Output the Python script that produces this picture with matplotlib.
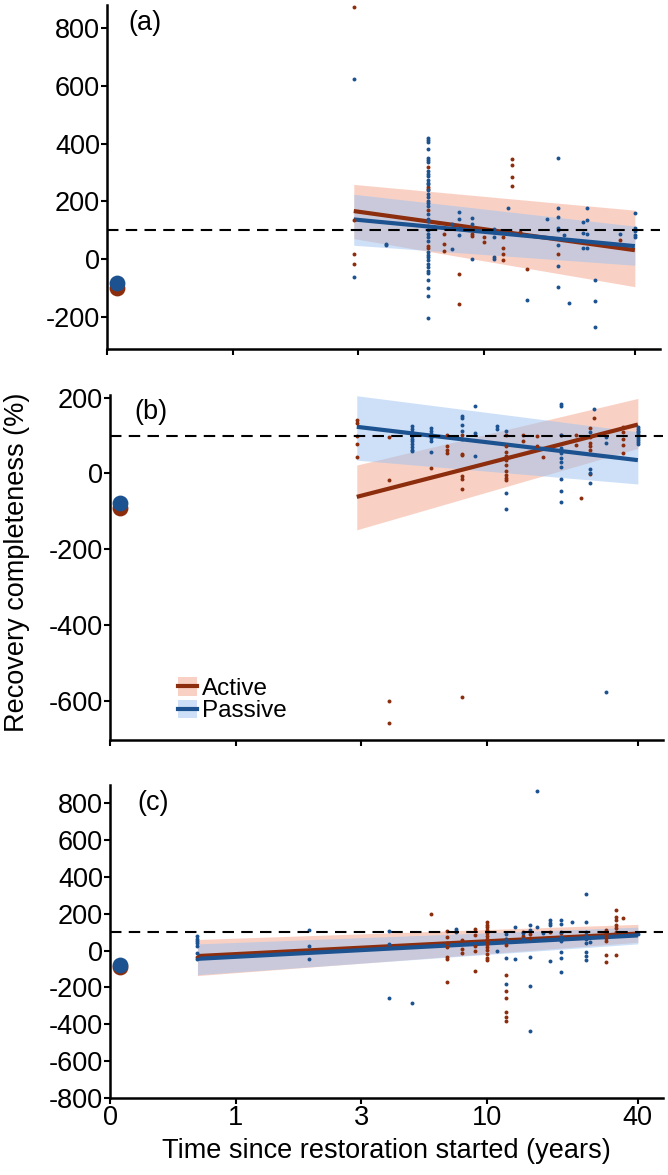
import numpy as np
import matplotlib.pyplot as plt
from matplotlib.lines import Line2D
from matplotlib.patches import Patch

plt.rcParams['font.family'] = ['Liberation Sans', 'DejaVu Sans']

# x axis: years on a stretched log scale (0, 1, 3, 10 evenly spaced, 40 a bit further)
tick_years = [0, 1, 3, 10, 40]
tick_pos = [0, 1, 2, 3, 4.2]

def year_pos(t):
    return np.interp(np.log1p(np.asarray(t, dtype=float)), np.log1p(tick_years), tick_pos)

# baseline (degraded) means plotted at ~0 years
base_t = 0.057
a_base = {'active': -99, 'passive': -80}
b_base = {'active': -91, 'passive': -77}
c_base = {'active': -91, 'passive': -76}

# fitted lines and confidence bands, value at start and end of the fit span
ab_span = [2.9, 40]
c_span = [0.62, 40]

a_active_fit, a_active_lo, a_active_hi = [167, 32], [72, -94], [259, 170]
a_passive_fit, a_passive_lo, a_passive_hi = [138, 46], [49, -20], [225, 115]
b_active_fit, b_active_lo, b_active_hi = [-62, 129], [-149, 66], [22, 198]
b_passive_fit, b_passive_lo, b_passive_hi = [123, 35], [35, -28], [205, 110]
c_active_fit, c_active_lo, c_active_hi = [-30, 92], [-136, 45], [60, 142]
c_passive_fit, c_passive_lo, c_passive_hi = [-45, 82], [-131, 36], [36, 127]

# individual observations, years -> recovery completeness (%)
a_active_pts = {
    2.9: [872, 135, 18, -16],
    6: [319, 250, 244, 172, 46, 38],
    7: [89, 55, 29],
    8: [-51, -154],
    9: [80, 89],
    10: [76, 61],
    12: [76, 38, 18, -2],
    13: [348, 327, 284, 252],
    14: [95],
    15: [-32],
    20: [18],
    35: [66],
}
a_passive_pts = {
    2.9: [622, -60],
    4: [55, 50],
    6: [420, 413, 405, 382, 351, 344, 336, 305, 296, 287, 275, 264, 259, 239, 225,
        216, 202, 195, 183, 158, 141, 133, 115, 101, 89, 76, 64, 26, 15, 7, -2,
        -16, -25, -39, -46, -71, -100, -125, -203],
    7.5: [37, 124],
    8: [163, 139, 110, 84],
    9: [143, 124, 2],
    11: [105, 78, 9, 0],
    12.6: [177],
    15: [-140],
    18: [140],
    20: [351, 177, 147, 107, 101, 49, -23, -94],
    21: [86],
    22: [-151],
    25: [129, 92, 40],
    26: [178, 135, 89, 40],
    28: [-70, -144, -233],
    35: [89],
    40: [162, 110, 97, 84, 76],
}
b_active_pts = {
    2.9: [142, 132, 100, 77, 43],
    4: [97, -18, -602, -660],
    6: [15],
    7: [101, 72, 62, 53],
    8: [101, 51, 48, -8, -15, -41, -591],
    12: [101, 73, 57, 46, 35, 22, 6, -4, -13, -18],
    14: [101, 86],
    16: [100, 73],
    17: [44],
    20: [101],
    23: [101, 75],
    24: [-66],
    26: [119, 97, 80, 72, 61, -1],
    27: [145],
    35: [123, 110, 92, 75, 53],
}
b_passive_pts = {
    5: [126, 117, 108, 100, 92, 85, 77, 70, 63, 59],
    6: [120, 112, 103, 94, 85, 57],
    8: [151, 145, 127, 112, 92],
    9: [178, 107, 46],
    11: [126, 117],
    12: [112, -53, -95],
    20: [184, 178, 101, 68, 53, 41, 30, 17, -15, -46, -75],
    26: [110, 12, 2, -25],
    27: [171],
    30: [95, 79, -577],
    40: [123, 118, 113, 108, 103, 98, 93, 88, 83, 78],
}
c_active_pts = {
    0.62: [-36],
    6: [200],
    7: [105, 75, 40, 20, -33, -45, -173],
    8: [58, 9, -15],
    9: [118, 82, 27, 0, -113],
    10: [154, 140, 125, 110, 95, 80, 65, 50, 35, 20, 5, -20, -40, -54],
    12: [60, 30, -131, -218, -260, -336, -360, -381],
    14: [100, 80],
    15: [90, 70],
    18: [100],
    20: [95],
    30: [110, 90, 80, 70, 50, -24, -60],
    33: [218, 182, 164, 140, 120, 100, -24],
    35: [174],
}
c_passive_pts = {
    0.62: [78, 64, 51, 40, 27, -15, -45],
    2: [109, 24, -45],
    4: [104, 33, -258],
    5: [-283],
    7.6: [118, 106, 100],
    11: [-4],
    12: [90, 60, -40, -182],
    13: [127, -48],
    14: [95, 60],
    15: [136, 110, -33, -191, -436],
    16: [868, 130],
    17: [95],
    18: [167, 150, 140, -55],
    20: [167, 145, 100, 75, 50, -9, -40, -114],
    22: [154],
    25: [309, 154, 100, 80, 60, 40, -10, -30, -50],
    26: [45],
    40: [87],
}

RED = '#8c2d0e'
BLUE = '#1c5290'
RED_FILL = '#f5a48a'
BLUE_FILL = '#9cc3f2'
FS = 19.5

W, H = 668, 1175
fig = plt.figure(figsize=(W / 100, H / 100), dpi=100)

def box(left, top, bottom, width=553):
    return [left / W, 1 - bottom / H, width / W, (bottom - top) / H]

def flatten(pts):
    t, v = [], []
    for k, vals in pts.items():
        t += [k] * len(vals)
        v += vals
    return year_pos(t), np.array(v)

def draw_panel(ax, span, act, pas, act_pts, pas_pts, base, ylim, yticks, show_xlabels):
    xs = year_pos(span)
    ax.fill_between(xs, act[1], act[2], color=RED_FILL, alpha=0.5, lw=0, zorder=1)
    ax.fill_between(xs, pas[1], pas[2], color=BLUE_FILL, alpha=0.5, lw=0, zorder=1)
    ax.plot(xs, act[0], color=RED, lw=3, solid_capstyle='butt', zorder=3)
    ax.plot(xs, pas[0], color=BLUE, lw=3, solid_capstyle='butt', zorder=3)
    for pts, col in [(act_pts, RED), (pas_pts, BLUE)]:
        x, y = flatten(pts)
        ax.scatter(x, y, s=8, color=col, lw=0, zorder=4)
    bx = year_pos(base_t)
    ax.scatter([bx], [base['active']], s=130, color=RED, lw=0, zorder=5, clip_on=False)
    ax.scatter([bx], [base['passive']], s=130, color=BLUE, lw=0, zorder=5, clip_on=False)
    ax.axhline(100, color='black', lw=1.5, dashes=(5.5, 3.5), zorder=6)

    ax.set_xlim(0, 4.4)
    ax.set_ylim(*ylim)
    ax.set_yticks(yticks)
    ax.set_yticklabels([str(v) for v in yticks])
    ax.set_xticks(tick_pos)
    if show_xlabels:
        ax.set_xticklabels([str(t) for t in tick_years])
    else:
        ax.set_xticklabels([])
    for s in ['top', 'right']:
        ax.spines[s].set_visible(False)
    for s in ['left', 'bottom']:
        ax.spines[s].set_linewidth(1.8)
    ax.tick_params(direction='out', length=4, width=1.5, pad=1, labelsize=FS)

ax_a = fig.add_axes(box(107, 5, 349))
draw_panel(ax_a, ab_span,
           (a_active_fit, a_active_lo, a_active_hi),
           (a_passive_fit, a_passive_lo, a_passive_hi),
           a_active_pts, a_passive_pts, a_base,
           (-309, 878), [-200, 0, 200, 400, 600, 800], False)

ax_b = fig.add_axes(box(110, 395, 740))
draw_panel(ax_b, ab_span,
           (b_active_fit, b_active_lo, b_active_hi),
           (b_passive_fit, b_passive_lo, b_passive_hi),
           b_active_pts, b_passive_pts, b_base,
           (-704, 207), [-600, -400, -200, 0, 200], False)

ax_c = fig.add_axes(box(110, 785, 1098))
draw_panel(ax_c, c_span,
           (c_active_fit, c_active_lo, c_active_hi),
           (c_passive_fit, c_passive_lo, c_passive_hi),
           c_active_pts, c_passive_pts, c_base,
           (-800, 898), list(range(-800, 801, 200)), True)

ax_c.set_xlabel('Time since restoration started (years)', fontsize=FS, labelpad=5)

fig.text(17 / W, 1 - 562 / H, 'Recovery completeness (%)', rotation=90,
         ha='center', va='center', fontsize=FS)

for lab, x, y in [('(a)', 128, 23), ('(b)', 134, 412), ('(c)', 137, 803)]:
    fig.text(x / W, 1 - y / H, lab, ha='left', va='center', fontsize=FS)

handles = [(Patch(facecolor=RED_FILL, alpha=0.5, lw=0), Line2D([], [], color=RED, lw=3)),
           (Patch(facecolor=BLUE_FILL, alpha=0.5, lw=0), Line2D([], [], color=BLUE, lw=3))]
fig.legend(handles, ['Active', 'Passive'], loc='upper left',
           bbox_to_anchor=(178 / W, 1 - 677 / H), frameon=False, fontsize=17.5,
           handlelength=0.8, handleheight=0.8, handletextpad=0.2,
           labelspacing=0.0, borderpad=0, borderaxespad=0)

fig.savefig('out.png', dpi=100)
